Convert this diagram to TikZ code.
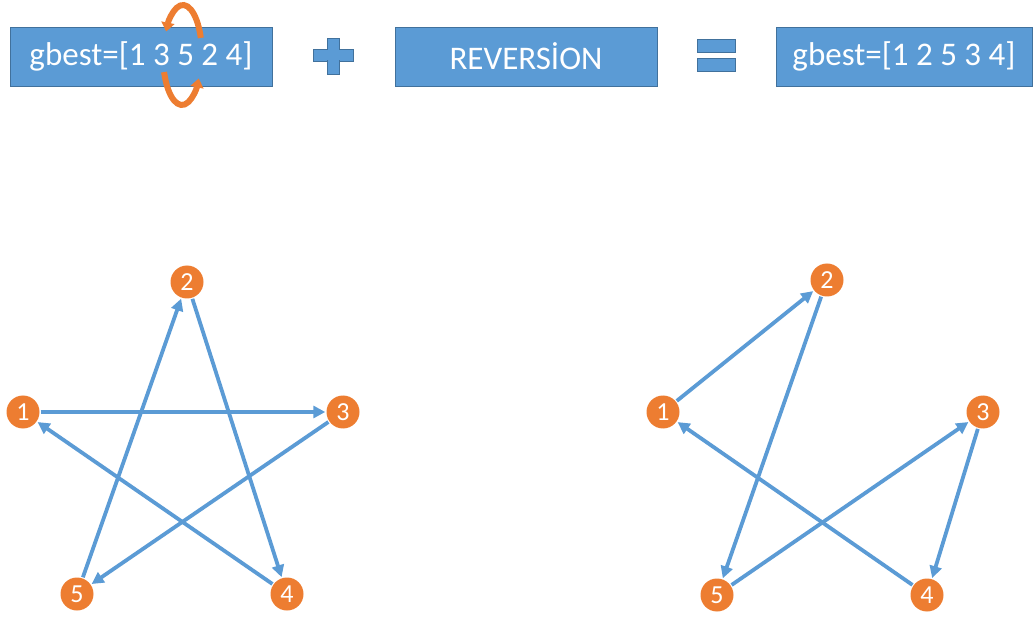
\documentclass[tikz,border=0pt]{standalone}
\usepackage{fontspec}
\setmainfont{Carlito}
\usepackage{tikz}
\usetikzlibrary{arrows.meta}
\definecolor{BoxBlue}{HTML}{5B9BD5}
\definecolor{EdgeBlue}{HTML}{41719C}
\definecolor{NodeOrange}{HTML}{ED7D31}
\definecolor{DarkOrange}{HTML}{C55A11}
\tikzset{
  opbox/.style={
    draw=EdgeBlue,fill=BoxBlue,line width=0.8pt,
    minimum width=262pt,minimum height=59pt,inner sep=0pt,
    font=\fontsize{33}{36}\selectfont\color{white}
  },
  citynode/.style={
    circle,fill=NodeOrange,minimum size=33pt,inner sep=0pt,
    font=\fontsize{26}{28}\selectfont\color{white}
  },
  tour/.style={
    draw=BoxBlue,line width=3.8pt,
    -{Triangle[length=12pt,width=12pt]},shorten >=1pt,shorten <=1pt
  },
  swaparrow/.style={
    draw=NodeOrange,line width=6pt,
    -{Triangle[length=9pt,width=13pt]}
  },
  sign/.style={draw=EdgeBlue,fill=BoxBlue,line width=0.8pt},
}
\begin{document}
\begin{tikzpicture}[x=1pt,y=-1pt]
  \useasboundingbox (0,0) rectangle (1036,617);
  % top row
  \node[opbox] (gbestold) at (141,56.5) {gbest=[1 3 5 2 4]};
  \node[opbox] (reversion) at (526,56.5) {REVERSİON};
  \node[opbox,minimum width=256pt] (gbestnew) at (904,56.5) {gbest=[1 2 5 3 4]};
  \draw[sign] (313,49) rectangle (353,61);
  \draw[sign] (327,38) rectangle (339,74);
  \fill[BoxBlue] (314,50) rectangle (352,60);
  \draw[sign] (697,39) rectangle (735,52);
  \draw[sign] (697,58) rectangle (735,71);
  % swap of 3 and 2
  \draw[swaparrow] (200.8,37.9) arc[start angle=-20,end angle=-152,x radius=19,y radius=50];
  \draw[swaparrow] (164.1,72.1) arc[start angle=160,end angle=28,x radius=19,y radius=50];
  % tour before
  \node[citynode] (L1) at (23,412) {1};
  \node[citynode] (L2) at (187,282) {2};
  \node[citynode] (L3) at (343,412) {3};
  \node[citynode] (L4) at (287,594) {4};
  \node[citynode] (L5) at (77,594) {5};
  \draw[tour] (L1) -- (L3);
  \draw[tour] (L3) -- (L5);
  \draw[tour] (L5) -- (L2);
  \draw[tour] (L2) -- (L4);
  \draw[tour] (L4) -- (L1);
  % tour after
  \node[citynode] (R1) at (663,412) {1};
  \node[citynode] (R2) at (827,280) {2};
  \node[citynode] (R3) at (983,412) {3};
  \node[citynode] (R4) at (927,595) {4};
  \node[citynode] (R5) at (717,595) {5};
  \draw[tour] (R1) -- (R2);
  \draw[tour] (R2) -- (R5);
  \draw[tour] (R5) -- (R3);
  \draw[tour] (R3) -- (R4);
  \draw[tour] (R4) -- (R1);
\end{tikzpicture}
\end{document}
